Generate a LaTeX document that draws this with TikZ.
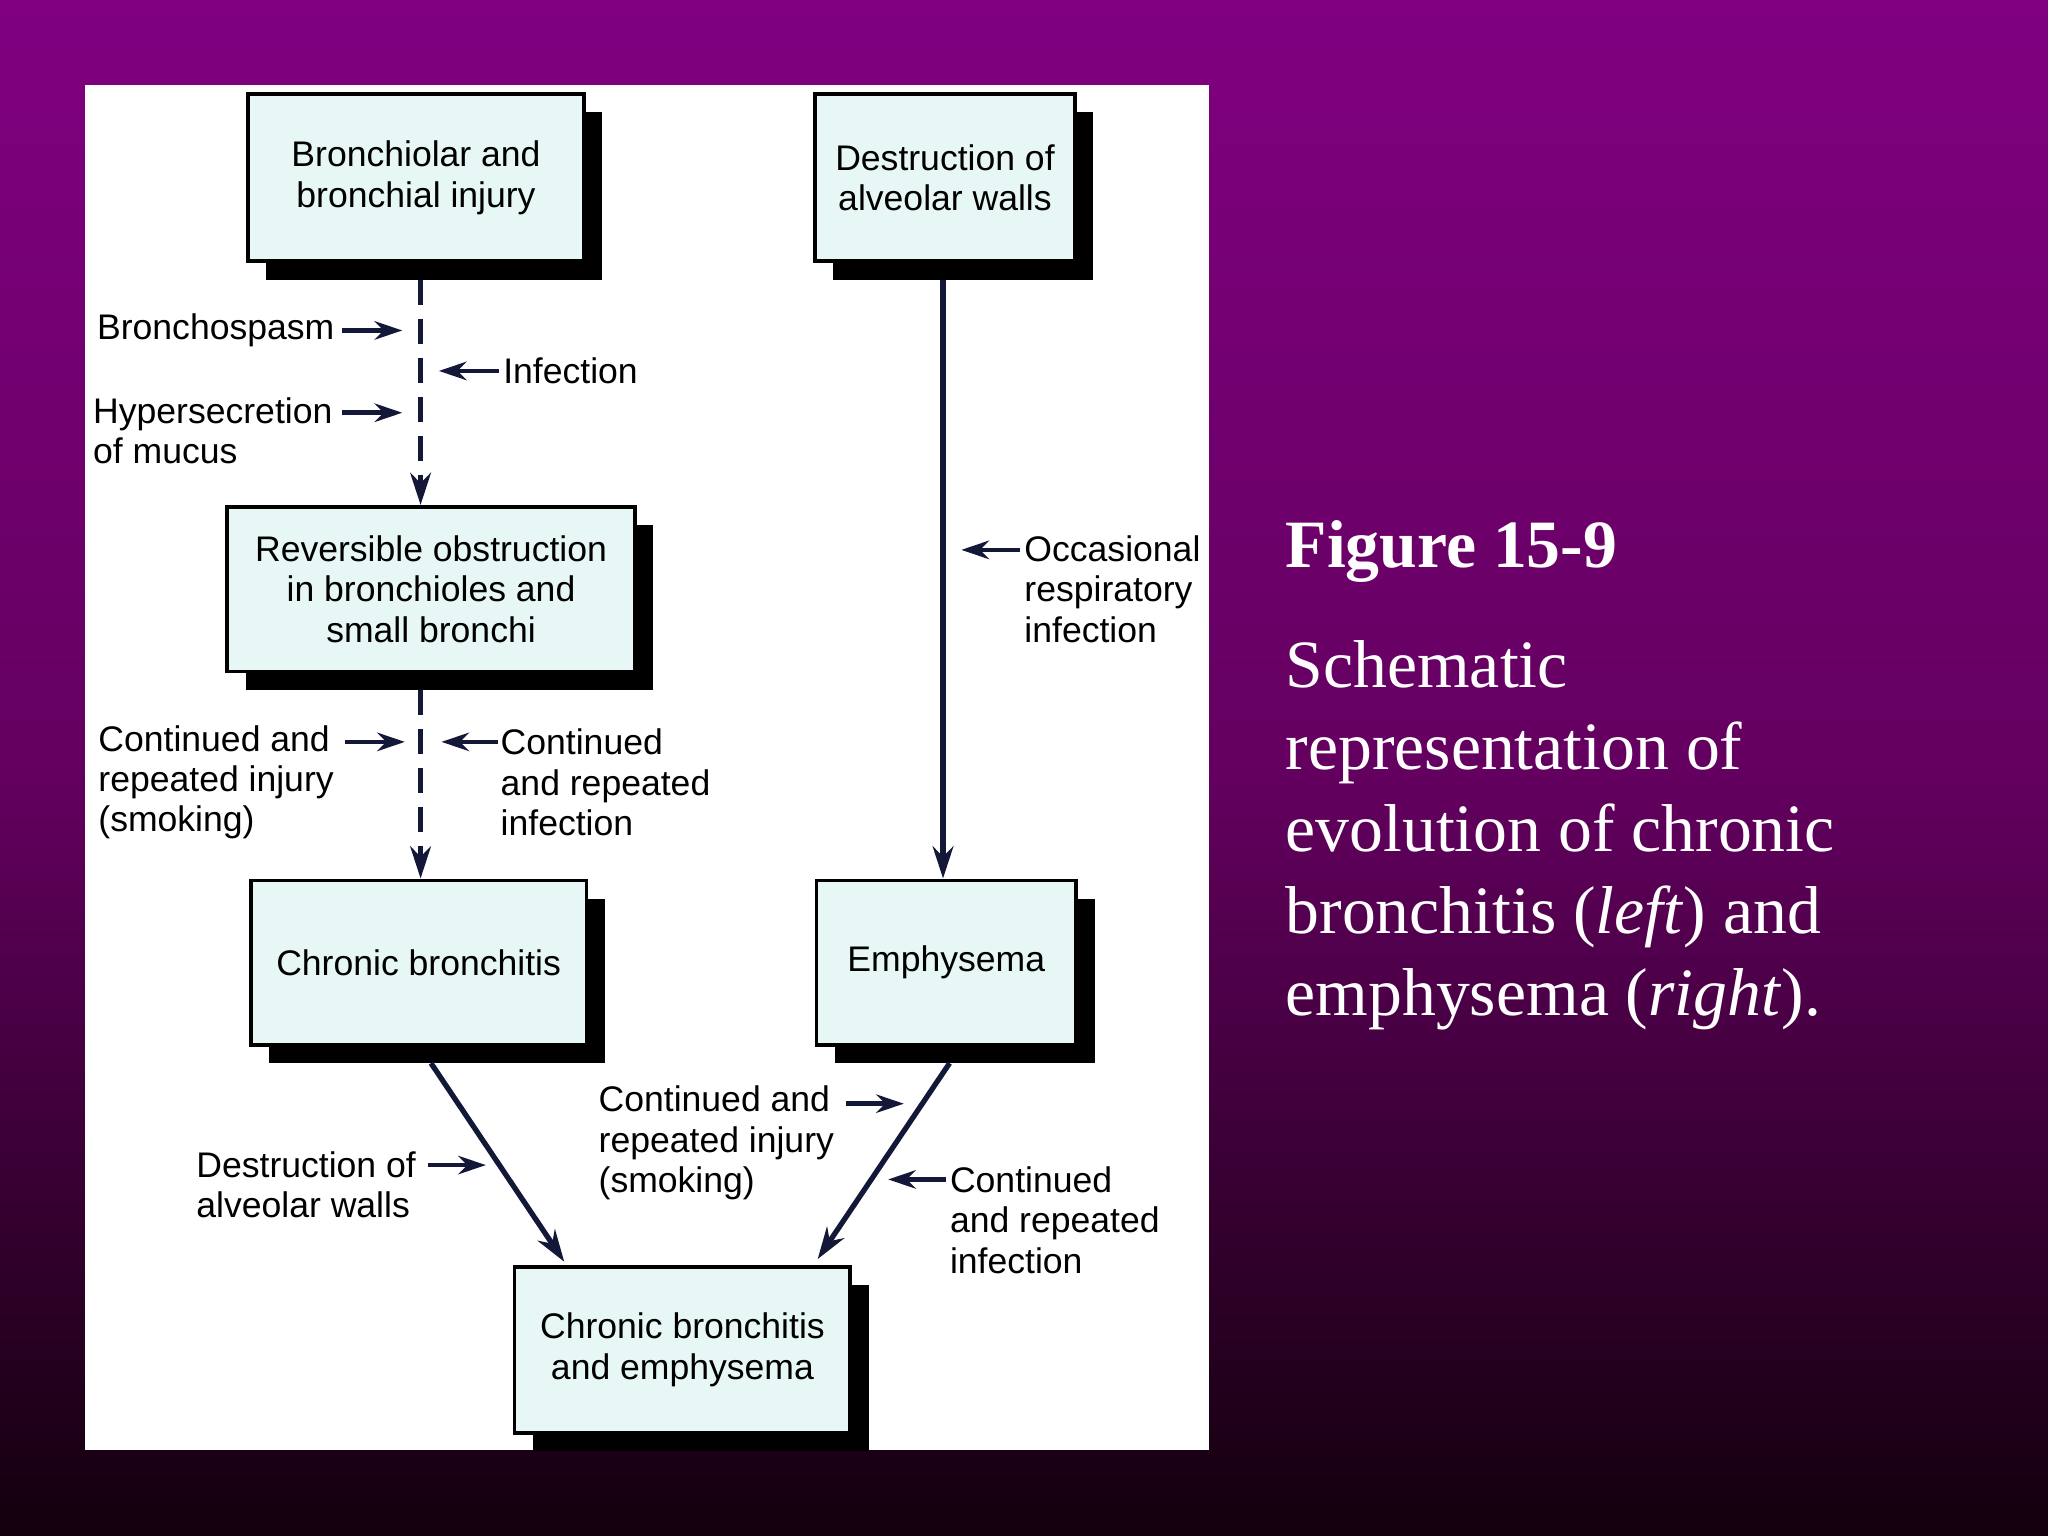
\documentclass[tikz,border=0pt]{standalone}
\usepackage{fontspec}
\setmainfont{Liberation Serif}
\newfontfamily\lsans{Liberation Sans}
\usetikzlibrary{arrows.meta}
\definecolor{ln}{HTML}{141838}
\definecolor{bx}{HTML}{E6F7F5}
\begin{document}
\begin{tikzpicture}[x=0.02cm,y=-0.02cm,
 box/.style={draw=black,line width=1.6pt,fill=bx,inner sep=0pt,align=center,font=\lsans\fontsize{15.5}{17.6}\selectfont},
 lab/.style={anchor=west,inner sep=0pt,align=left,font=\lsans\fontsize{15.5}{17.6}\selectfont},
 con/.style={ln,line width=2.3pt,-{Stealth[length=14pt,width=9pt]}},
 sm/.style={ln,line width=2pt,-{Stealth[length=12pt,width=8pt]}}]
\useasboundingbox (0,0) rectangle (1568,1176);
\shade[top color={rgb,255:red,128;green,0;blue,128},bottom color={rgb,255:red,18;green,0;blue,12},middle color={rgb,255:red,100;green,0;blue,96}] (0,0) rectangle (1568,1176);
\fill[white] (65,65) rectangle (926,1110);
% shadows
\foreach \a/\b/\c/\d in {190/72/447/200,624/72/823/200,174/388/486/514,192/674/449/800,625/674/824/800,394/970/651/1097}
 \fill[black] (\a+14,\b+14) rectangle (\c+14,\d+14);
\node[box,minimum width=257*0.02cm,minimum height=128*0.02cm] (b1) at (318.5,136) {Bronchiolar and\\bronchial injury};
\node[box,minimum width=199*0.02cm,minimum height=128*0.02cm] (b2) at (723.5,136) {Destruction of\\alveolar walls};
\node[box,minimum width=312*0.02cm,minimum height=126*0.02cm] (b3) at (330,451) {Reversible obstruction\\in bronchioles and\\small bronchi};
\node[box,minimum width=257*0.02cm,minimum height=126*0.02cm] (b4) at (320.5,737) {Chronic bronchitis};
\node[box,minimum width=199*0.02cm,minimum height=126*0.02cm] (b5) at (724.5,737) {Emphysema};
\node[box,minimum width=257*0.02cm,minimum height=127*0.02cm] (b6) at (522.5,1033.5) {Chronic bronchitis\\and emphysema};
% connectors
\coordinate (p1) at (322,214); \coordinate (p2) at (322,528);
\draw[con,dash pattern=on 11pt off 6pt] (p1) -- (b3.north -| p1);
\draw[con,dash pattern=on 11pt off 6pt] (p2) -- (b4.north -| p2);
\coordinate (p3) at (722,214);
\draw[con] (p3) -- (b5.north -| p3);
\coordinate (q1) at (330,814); \coordinate (q2) at (432,966);
\draw[con] (q1) -- (q2);
\coordinate (q3) at (727,814); \coordinate (q4) at (626,964);
\draw[con] (q3) -- (q4);
% labels
\node[lab] (l1) at (74,253) {Bronchospasm};
\node[lab] (l2) at (385,284) {Infection};
\node[lab] (l3) at (71,330) {Hypersecretion\\of mucus};
\node[lab] (l4) at (75,599) {Continued and\\repeated injury\\(smoking)};
\node[lab] (l5) at (383,599) {Continued\\and repeated\\infection};
\node[lab] (l6) at (784,451) {Occasional\\respiratory\\infection};
\node[lab] (l7) at (150,907) {Destruction of\\alveolar walls};
\node[lab] (l8) at (458,875) {Continued and\\repeated injury\\(smoking)};
\node[lab] (l9) at (727,934) {Continued\\and repeated\\infection};
\coordinate (a1) at (308,253); \coordinate (a2) at (336,284); \coordinate (a3) at (308,316);
\coordinate (a4) at (310,568); \coordinate (a5) at (338,568); \coordinate (a6) at (736,421);
\coordinate (a7) at (372,892); \coordinate (a8) at (692,845); \coordinate (a9) at (680,903);
\draw[sm] (262,253) -- (a1);
\draw[sm] (382,284) -- (a2);
\draw[sm] (262,316) -- (a3);
\draw[sm] (264,568) -- (a4);
\draw[sm] (381,568) -- (a5);
\draw[sm] (781,421) -- (a6);
\draw[sm] (328,892) -- (a7);
\draw[sm] (648,845) -- (a8);
\draw[sm] (724,903) -- (a9);
% right text
\node[anchor=north west,inner sep=0pt,text=white,font=\bfseries\fontsize{29.5}{34}\selectfont] (t1) at (984,398) {Figure 15-9};
\node[anchor=north west,inner sep=0pt,text=white,align=left,font=\fontsize{29.5}{35.7}\selectfont] (t2) at (984,490) {Schematic\\representation of\\evolution of chronic\\bronchitis (\textit{left}) and\\emphysema (\textit{right}).};
\end{tikzpicture}
\end{document}
